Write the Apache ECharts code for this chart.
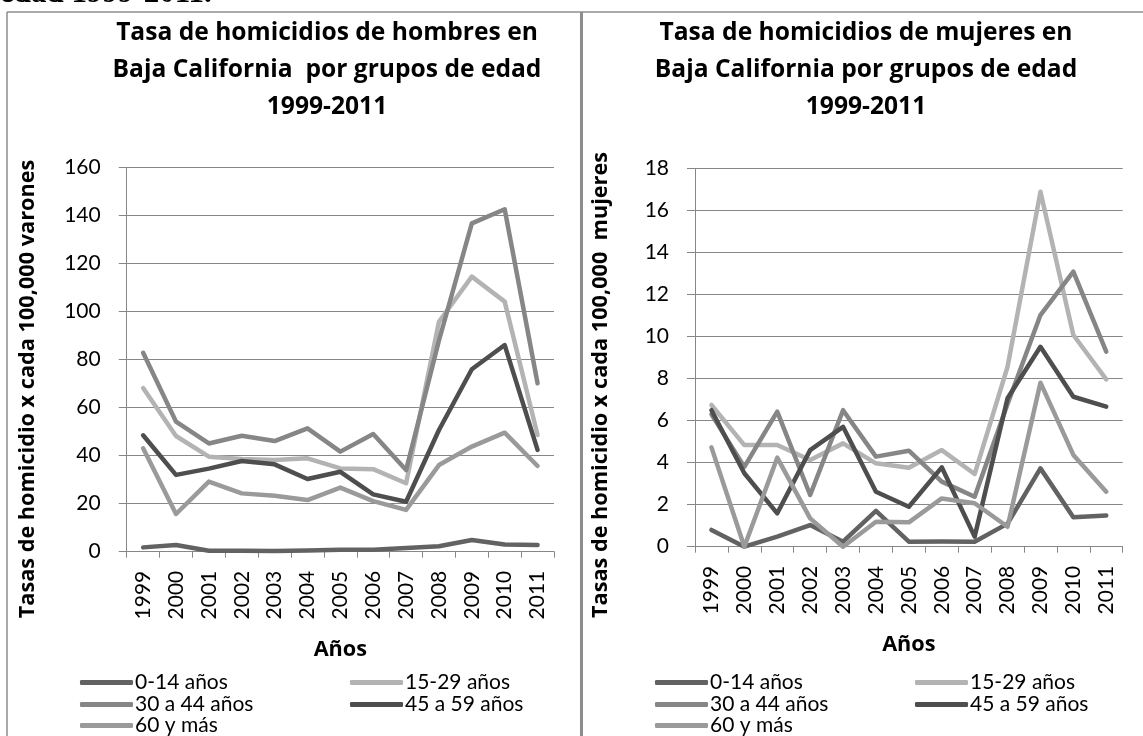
<!DOCTYPE html>
<html>
<head>
<meta charset="utf-8">
<script src="https://cdn.jsdelivr.net/npm/echarts@6/dist/echarts.min.js"></script>
<style>
  html, body { margin: 0; padding: 0; background: #fff; }
  #main { width: 1143px; height: 736px; }
</style>
</head>
<body>
<div id="main"></div>
<script>
// Años del periodo
const years = ['1999', '2000', '2001', '2002', '2003', '2004', '2005', '2006', '2007', '2008', '2009', '2010', '2011'];

// Grupos de edad
const groups = ['0-14 años', '15-29 años', '30 a 44 años', '45 a 59 años', '60 y más'];

// Tasas de homicidio de hombres (por 100,000 varones)
const hombres_0_14  = [1.8, 2.8, 0.4, 0.4, 0.3, 0.5, 0.8, 0.8, 1.5, 2.3, 4.9, 3.0, 2.8];
const hombres_15_29 = [68.2, 48.2, 39.6, 38.6, 38.2, 38.9, 34.7, 34.4, 28.5, 95.8, 114.6, 104.2, 48.6];
const hombres_30_44 = [82.9, 54.2, 45.1, 48.3, 46.1, 51.4, 41.7, 49.0, 34.0, 88.0, 136.8, 142.7, 70.2];
const hombres_45_59 = [48.5, 32.0, 34.6, 37.8, 36.4, 30.3, 33.3, 23.9, 20.8, 50.7, 76.0, 86.1, 42.4];
const hombres_60    = [43.1, 15.7, 29.2, 24.3, 23.3, 21.5, 26.7, 21.1, 17.4, 36.1, 43.8, 49.6, 35.7];

// Tasas de homicidio de mujeres (por 100,000 mujeres)
const mujeres_0_14  = [0.8, 0.0, 0.48, 1.03, 0.24, 1.71, 0.24, 0.25, 0.24, 1.1, 3.73, 1.4, 1.48];
const mujeres_15_29 = [6.75, 4.84, 4.84, 4.13, 4.92, 3.97, 3.76, 4.6, 3.46, 8.57, 16.9, 10.08, 7.97];
const mujeres_30_44 = [6.3, 3.8, 6.43, 2.46, 6.5, 4.29, 4.57, 3.1, 2.38, 6.8, 11.03, 13.1, 9.29];
const mujeres_45_59 = [6.5, 3.5, 1.59, 4.6, 5.71, 2.62, 1.9, 3.78, 0.48, 7.07, 9.52, 7.14, 6.67];
const mujeres_60    = [4.73, 0.0, 4.24, 1.35, 0.0, 1.19, 1.16, 2.3, 2.07, 0.95, 7.81, 4.37, 2.62];

const hombresData = [hombres_0_14, hombres_15_29, hombres_30_44, hombres_45_59, hombres_60];
const mujeresData = [mujeres_0_14, mujeres_15_29, mujeres_30_44, mujeres_45_59, mujeres_60];

// Escalas de los ejes verticales
const hombresAxis = { min: 0, max: 160, interval: 20 };
const mujeresAxis = { min: 0, max: 18, interval: 2 };

const lineColors = ['#626262', '#b3b3b3', '#868686', '#4e4e4e', '#9a9a9a'];
const gridColor = '#878787';
const labelFont = 'Lato';
const boldFont = '"Open Sans"';

// Tamaño de letra que hace que un texto ocupe el ancho indicado
const measureCtx = document.createElement('canvas').getContext('2d');
function fitSize(text, family, targetWidth) {
  measureCtx.font = 'bold 100px ' + family;
  const w = measureCtx.measureText(text).width;
  return Math.round(100 * targetWidth / w * 10) / 10;
}

const titleSize = fitSize('Tasa de homicidios de hombres en', boldFont, 421);
const axisNameSize = fitSize('Tasas de homicidio x cada 100,000 varones', boldFont, 458);

function xAxisFor(gridIndex) {
  return {
    type: 'category',
    gridIndex: gridIndex,
    data: years,
    boundaryGap: true,
    axisLine: { lineStyle: { color: gridColor, width: 1 } },
    axisTick: { show: true, length: 6, lineStyle: { color: gridColor } },
    axisLabel: { rotate: 90, interval: 0, margin: 19, fontSize: 21, fontFamily: labelFont, color: '#000' },
    name: 'Años',
    nameLocation: 'middle',
    nameGap: 87,
    nameTextStyle: { fontSize: axisNameSize, fontWeight: 'bold', fontFamily: boldFont, color: '#000' }
  };
}

function yAxisFor(gridIndex, scale) {
  return {
    type: 'value',
    gridIndex: gridIndex,
    min: scale.min,
    max: scale.max,
    interval: scale.interval,
    axisLine: { show: true, lineStyle: { color: gridColor, width: 1 } },
    axisTick: { show: true, length: 8, lineStyle: { color: gridColor } },
    splitLine: { show: true, lineStyle: { color: gridColor, width: 1 } },
    axisLabel: { margin: 26, fontSize: 21, fontFamily: labelFont, color: '#000' }
  };
}

function seriesFor(dataSets, axisIndex) {
  return dataSets.map(function (values, i) {
    return {
      type: 'line',
      name: groups[i],
      xAxisIndex: axisIndex,
      yAxisIndex: axisIndex,
      data: values,
      symbol: 'none',
      smooth: false,
      lineStyle: { color: lineColors[i], width: 4.5, join: 'round', cap: 'round' },
      itemStyle: { color: lineColors[i] }
    };
  });
}

// Leyenda: dos columnas y tres filas por panel
function legendsFor(colX, rowY) {
  const out = [];
  groups.forEach(function (name, i) {
    const col = i % 2;
    const row = Math.floor(i / 2);
    out.push({
      data: [name],
      left: colX[col],
      top: rowY[row] - 11,
      padding: 0,
      itemWidth: 53,
      itemHeight: 5,
      icon: 'roundRect',
      selectedMode: false,
      textStyle: { fontSize: 21, fontFamily: labelFont, color: '#000', padding: [0, 0, 0, -3] }
    });
  });
  return out;
}

const titleStyle = { fontSize: titleSize, fontWeight: 'bold', fontFamily: boldFont, color: '#000', lineHeight: 37 };

const option = {
  animation: false,
  backgroundColor: '#fff',
  title: [
    {
      text: 'Tasa de homicidios de hombres en\nBaja California  por grupos de edad\n1999-2011',
      left: 327, top: 14, padding: 0, textAlign: 'center', textStyle: titleStyle
    },
    {
      text: 'Tasa de homicidios de mujeres en\nBaja California por grupos de edad\n1999-2011',
      left: 866, top: 14, padding: 0, textAlign: 'center', textStyle: titleStyle
    }
  ],
  grid: [
    { left: 126.7, top: 167.7, width: 427.3, height: 384 },
    { left: 695, top: 168.7, width: 427.7, height: 378 }
  ],
  xAxis: [xAxisFor(0), xAxisFor(1)],
  yAxis: [yAxisFor(0, hombresAxis), yAxisFor(1, mujeresAxis)],
  legend: legendsFor([80, 350], [683, 705, 726]).concat(legendsFor([655, 915], [683, 705, 726])),
  series: seriesFor(hombresData, 0).concat(seriesFor(mujeresData, 1)),
  graphic: [
    // encabezado del documento, cortado en el borde superior
    {
      type: 'text', x: 0, y: -6.5, silent: true,
      style: { text: 'edad 1999-2011.', font: 'bold 31px "Liberation Serif"', fill: '#000', align: 'left', verticalAlign: 'middle' }
    },
    // marcos de los dos paneles
    { type: 'line', silent: true, shape: { x1: 7, y1: 12, x2: 1143, y2: 12 }, style: { stroke: '#8c8c8c', lineWidth: 1.5 } },
    { type: 'line', silent: true, shape: { x1: 7, y1: 12, x2: 7, y2: 736 }, style: { stroke: '#8c8c8c', lineWidth: 1.5 } },
    { type: 'line', silent: true, shape: { x1: 581.5, y1: 12, x2: 581.5, y2: 736 }, style: { stroke: '#8c8c8c', lineWidth: 3 } },
    // títulos de los ejes verticales
    {
      type: 'text', x: 28, y: 389, rotation: Math.PI / 2, silent: true,
      style: { text: 'Tasas de homicidio x cada 100,000 varones', font: 'bold ' + axisNameSize + 'px "Open Sans"', fill: '#000', align: 'center', verticalAlign: 'middle' }
    },
    {
      type: 'text', x: 601, y: 385, rotation: Math.PI / 2, silent: true,
      style: { text: 'Tasas de homicidio x cada 100,000  mujeres', font: 'bold ' + axisNameSize + 'px "Open Sans"', fill: '#000', align: 'center', verticalAlign: 'middle' }
    }
  ]
};

const chart = echarts.init(document.getElementById('main'), null, { renderer: 'canvas' });
chart.setOption(option);
</script>
</body>
</html>
